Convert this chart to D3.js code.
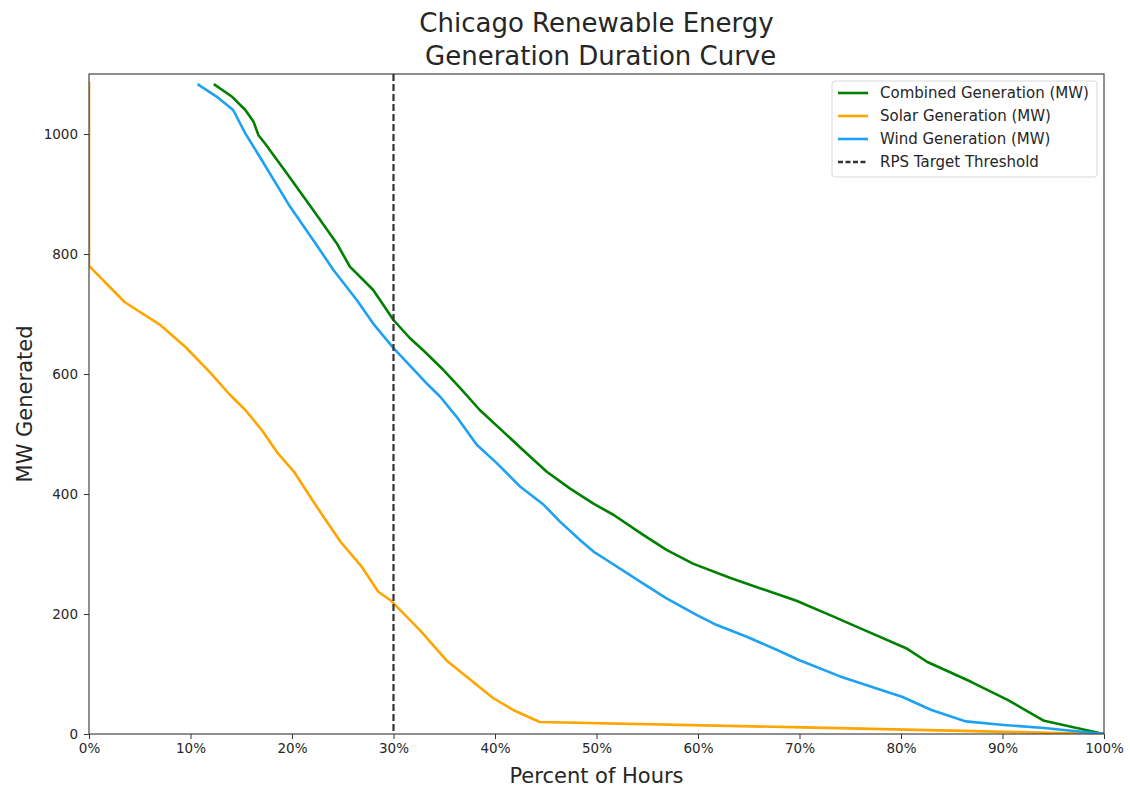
<!DOCTYPE html>
<html>
<head>
<meta charset="utf-8">
<script src="https://cdn.jsdelivr.net/npm/d3@7"></script>
<style>
  body { margin: 0; background: #fff; }
  text { font-family: "DejaVu Sans", sans-serif; fill: #262626; }
</style>
</head>
<body>
<svg id="chart" width="1130" height="789"></svg>
<script>
const pctCombined = [12.4, 14.1, 15.4, 16.2, 16.7, 17.4, 19.5, 22.1, 24.4, 25.7, 28.0, 30.0, 31.6, 32.9, 34.9, 36.6, 38.5, 40.8, 43.1, 45.1, 47.4, 49.7, 51.7, 54.6, 56.9, 59.5, 63.2, 66.1, 69.7, 73.3, 76.0, 80.5, 82.6, 86.9, 90.5, 94.1, 100];
const mwCombined  = [1082, 1062, 1040, 1021, 998, 983, 934, 873, 818, 779, 740, 690, 660, 640, 607, 576, 540, 504, 468, 437, 409, 384, 365, 332, 307, 284, 260, 243, 222, 196, 176, 143, 120, 87, 57, 22, 0];

const pctSolar = [0, 0, 3.5, 7.0, 9.5, 11.9, 13.9, 15.4, 17.0, 18.6, 20.2, 22.0, 23.3, 24.8, 26.9, 28.5, 29.7, 32.6, 35.2, 39.8, 41.8, 44.4, 70.4, 100];
const mwSolar  = [1085, 780, 720, 682, 645, 603, 565, 540, 507, 468, 437, 390, 357, 320, 278, 237, 223, 173, 123, 60, 40, 20, 11, 0];

const pctWind = [10.8, 12.6, 14.2, 15.4, 17.0, 19.8, 22.1, 24.1, 26.4, 28.0, 30.0, 31.9, 33.4, 34.6, 36.2, 38.2, 40.2, 42.5, 44.8, 46.4, 48.4, 49.7, 51.0, 54.3, 56.9, 59.9, 61.8, 64.8, 67.8, 70.0, 74.0, 77.6, 80.1, 83.0, 86.4, 90.1, 94.1, 100];
const mwWind  = [1082, 1062, 1040, 1001, 957, 879, 823, 773, 723, 684, 643, 609, 582, 562, 529, 482, 451, 412, 382, 354, 323, 304, 290, 254, 226, 198, 182, 162, 140, 123, 96, 76, 62, 40, 21, 15, 10, 0];

const rpsThreshold = 30;
const xTicks = [0, 10, 20, 30, 40, 50, 60, 70, 80, 90, 100];
const yTicks = [0, 200, 400, 600, 800, 1000];

const seriesNames = ["Combined Generation (MW)", "Solar Generation (MW)", "Wind Generation (MW)"];
const seriesColors = ["#008000", "#FFA500", "#1DA1F2"];
const thresholdLabel = "RPS Target Threshold";

const W = 1130, H = 789;
const m = { left: 89, right: 26, top: 74, bottom: 55 };
const svg = d3.select("#chart");

const x = d3.scaleLinear().domain([0, 100]).range([m.left, W - m.right]);
const y = d3.scaleLinear().domain([0, 1100]).range([H - m.bottom, m.top]);

const series = [
  { name: seriesNames[0], color: seriesColors[0], pts: pctCombined.map((p, i) => [p, mwCombined[i]]) },
  { name: seriesNames[1], color: seriesColors[1], pts: pctSolar.map((p, i) => [p, mwSolar[i]]) },
  { name: seriesNames[2], color: seriesColors[2], pts: pctWind.map((p, i) => [p, mwWind[i]]) }
];

svg.append("defs").append("clipPath").attr("id", "clip")
  .append("rect").attr("x", m.left).attr("y", m.top)
  .attr("width", W - m.left - m.right).attr("height", H - m.top - m.bottom);

const line = d3.line().x(d => x(d[0])).y(d => y(d[1]));
const g = svg.append("g").attr("clip-path", "url(#clip)");

series.forEach(s => {
  g.append("path").datum(s.pts)
    .attr("d", line)
    .attr("fill", "none")
    .attr("stroke", s.color)
    .attr("stroke-width", 2.6)
    .attr("stroke-linejoin", "round")
    .attr("stroke-linecap", "square");
});

g.append("line")
  .attr("x1", x(rpsThreshold)).attr("x2", x(rpsThreshold))
  .attr("y1", y(1100)).attr("y2", y(0))
  .attr("stroke", "#333").attr("stroke-width", 2.2)
  .attr("stroke-dasharray", "7,3");

const xAxis = d3.axisBottom(x).tickValues(xTicks).tickFormat(d => d + "%").tickSizeOuter(0).tickSize(5).tickPadding(4);
const yAxis = d3.axisLeft(y).tickValues(yTicks).tickFormat(d3.format("d")).tickSizeOuter(0).tickSize(5).tickPadding(6);

const gx = svg.append("g").attr("transform", `translate(0,${H - m.bottom})`).call(xAxis);
const gy = svg.append("g").attr("transform", `translate(${m.left},0)`).call(yAxis);
[gx, gy].forEach(a => {
  a.select(".domain").remove();
  a.selectAll(".tick line").attr("stroke", "#333").attr("stroke-width", 1);
  a.selectAll(".tick text").style("font-family", "DejaVu Sans").style("font-size", "13.5px").attr("fill", "#262626");
});

svg.append("rect")
  .attr("x", m.left).attr("y", m.top)
  .attr("width", W - m.left - m.right).attr("height", H - m.top - m.bottom)
  .attr("fill", "none").attr("stroke", "#333").attr("stroke-width", 1.1);

svg.append("text").attr("x", (m.left + W - m.right) / 2).attr("y", 783)
  .attr("text-anchor", "middle").style("font-size", "21px").text("Percent of Hours");
svg.append("text")
  .attr("transform", `translate(32,${(m.top + H - m.bottom) / 2}) rotate(-90)`)
  .attr("text-anchor", "middle").style("font-size", "21px").text("MW Generated");

const cx = (m.left + W - m.right) / 2;
svg.append("text").attr("x", cx).attr("y", 32).attr("text-anchor", "middle")
  .style("font-size", "26px").style("white-space", "pre").text("Chicago Renewable Energy");
svg.append("text").attr("x", cx).attr("y", 65).attr("text-anchor", "middle")
  .style("font-size", "26px").style("white-space", "pre").text(" Generation Duration Curve");

const lg = svg.append("g");
lg.append("rect").attr("x", 832).attr("y", 81).attr("width", 265).attr("height", 96)
  .attr("rx", 3).attr("fill", "#fff").attr("fill-opacity", 0.8).attr("stroke", "#d9d9d9");
const items = series.map(s => ({ name: s.name, color: s.color, dash: null }))
  .concat([{ name: thresholdLabel, color: "#333", dash: "5,2.5" }]);
items.forEach((it, i) => {
  const yy = 93 + i * 23;
  lg.append("line").attr("x1", 838).attr("x2", 868).attr("y1", yy).attr("y2", yy)
    .attr("stroke", it.color).attr("stroke-width", 2.6)
    .attr("stroke-dasharray", it.dash);
  lg.append("text").attr("x", 880).attr("y", yy + 5)
    .style("font-size", "15px").text(it.name);
});
</script>
</body>
</html>
